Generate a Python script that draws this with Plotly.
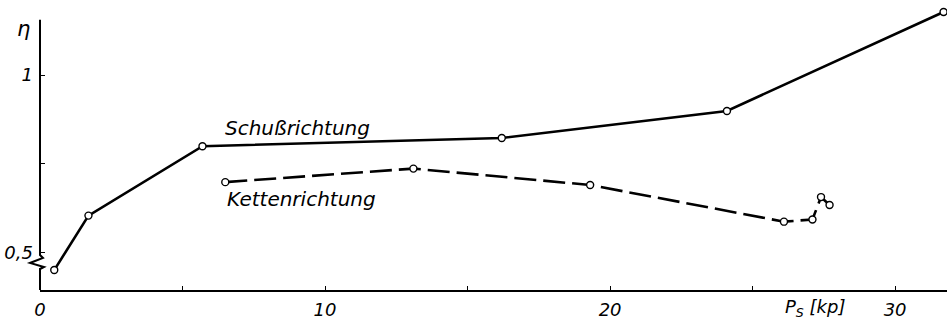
import plotly.graph_objects as go

# data
schuss_x = [0.5, 1.7, 5.7, 16.2, 24.1, 31.7]
schuss_y = [0.452, 0.605, 0.800, 0.823, 0.899, 1.177]
ketten_x = [6.5, 13.1, 19.3, 26.1, 27.1, 27.4, 27.7]
ketten_y = [0.699, 0.737, 0.691, 0.588, 0.594, 0.657, 0.635]

x_tickvals = [0, 10, 20, 30]
x_ticktext = ["0", "10", "20", "30"]
x_minor = [5, 15, 25]
y_tickvals = [0.5, 1.0]
y_ticktext = ["0,5", "1"]
y_minor = [0.75]

W, H = 947, 323
ML, MR, MT, MB = 40, 0, 0, 33
X_RANGE = [0, 31.82]
Y_RANGE = [0.396, 1.2107]
PW, PH = W - ML - MR, H - MT - MB

FONT = "DejaVu Sans"

fig = go.Figure()
fig.add_trace(go.Scatter(x=schuss_x, y=schuss_y, mode="lines",
                         line=dict(color="black", width=2.6), hoverinfo="skip"))
fig.add_trace(go.Scatter(x=ketten_x, y=ketten_y, mode="lines",
                         line=dict(color="black", width=2.6, dash="22px,7px"), hoverinfo="skip"))
for xs, ys in [(schuss_x, schuss_y), (ketten_x, ketten_y)]:
    fig.add_trace(go.Scatter(x=xs, y=ys, mode="markers",
                             marker=dict(symbol="circle", size=7, color="white",
                                         line=dict(width=1.4, color="black")),
                             hoverinfo="skip"))

# y axis line with break, in paper coordinates (pixel offsets from the 0.5 level)
y05 = (0.5 - Y_RANGE[0]) / (Y_RANGE[1] - Y_RANGE[0])
ytop = (1.155 - Y_RANGE[0]) / (Y_RANGE[1] - Y_RANGE[0])
def P(dx, dy):
    return (dx / PW, y05 - dy / PH)

pts = [(0, ytop), P(0, 2), P(3, 5), P(-10, 10), P(4, 14), P(0, 16), (0, 0)]
path = "M " + " L ".join(f"{x:.5f},{y:.5f}" for x, y in pts)
fig.add_shape(type="path", path=path, xref="paper", yref="paper",
              line=dict(color="black", width=2))

fig.add_annotation(x=9.05, y=0.851, text="<i>Schußrichtung</i>", showarrow=False,
                   font=dict(family=FONT, size=20, color="black"))
fig.add_annotation(x=9.16, y=0.652, text="<i>Kettenrichtung</i>", showarrow=False,
                   font=dict(family=FONT, size=20, color="black"))
fig.add_annotation(x=27.2, y=0, yref="paper", yanchor="top", yshift=-4,
                   text="<i>P<sub>S</sub> [kp]</i>", showarrow=False,
                   font=dict(family=FONT, size=18, color="black"))
fig.add_annotation(x=0, xref="paper", xshift=-25, y=1.128, text="<i>η</i>", showarrow=False,
                   font=dict(family=FONT, size=21, color="black"))

tick_font = dict(family=FONT, size=18, color="black")
fig.update_layout(
    width=W, height=H, margin=dict(l=ML, r=MR, t=MT, b=MB, autoexpand=False),
    paper_bgcolor="white", plot_bgcolor="white", showlegend=False,
    xaxis=dict(range=X_RANGE, showgrid=False, zeroline=False, showline=True, automargin=False,
               linecolor="black", linewidth=2, ticks="inside", ticklen=4, tickwidth=1,
               tickcolor="black", tickvals=x_tickvals,
               ticktext=[f"<i>{t}</i>" for t in x_ticktext], ticklabelstandoff=2,
               minor=dict(tickvals=x_minor, ticks="inside", ticklen=4, tickwidth=1,
                          tickcolor="black", showgrid=False),
               tickfont=tick_font),
    yaxis=dict(range=Y_RANGE, showgrid=False, zeroline=False, showline=False, automargin=False,
               ticks="inside", ticklen=5, tickwidth=1, tickcolor="black",
               tickvals=y_tickvals, ticktext=[f"<i>{t}</i>" for t in y_ticktext],
               ticklabelstandoff=6,
               minor=dict(tickvals=y_minor, ticks="inside", ticklen=5, tickwidth=1,
                          tickcolor="black", showgrid=False),
               tickfont=tick_font),
)
fig.write_html("out.html", config={"displayModeBar": False},
               post_script="document.body.style.margin='0';")
